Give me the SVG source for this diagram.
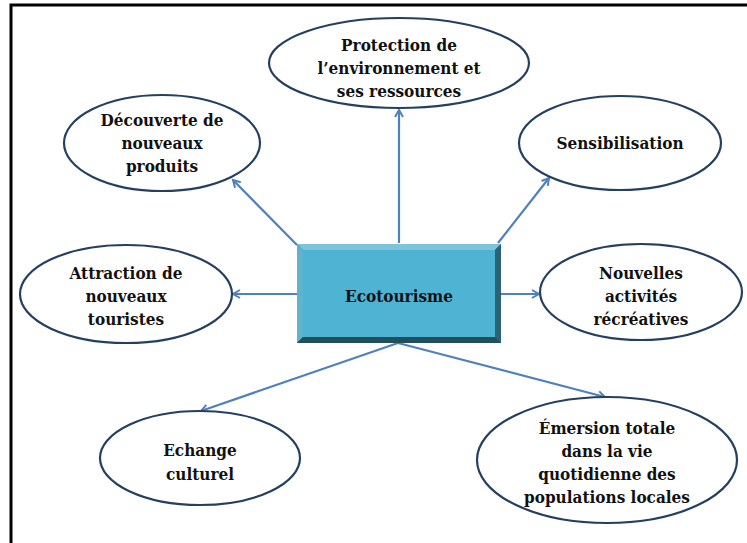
<svg xmlns="http://www.w3.org/2000/svg" width="747" height="543" viewBox="0 0 747 543">
<style>
.n ellipse{fill:#fff;stroke:#243f60;stroke-width:2.2}
text{font-family:'DejaVu Serif Condensed','DejaVu Serif','Liberation Serif',serif;font-stretch:condensed;font-weight:700;font-size:17px;fill:#111;text-anchor:middle}
.c line{stroke:#4f81bd;stroke-width:2.2;marker-end:url(#ah)}
</style>
<defs>
<marker id="ah" markerWidth="10" markerHeight="10" refX="8" refY="5" orient="auto" markerUnits="userSpaceOnUse">
<path d="M1,1 L8,5 L1,9" fill="none" stroke="#4f81bd" stroke-width="2"/>
</marker>
</defs>
<rect width="747" height="543" fill="#fff"/>
<path d="M11,543 V5 H747" fill="none" stroke="#000" stroke-width="3"/>
<g class="c">
<line x1="399" y1="243" x2="399" y2="110"/>
<line x1="297" y1="245" x2="233" y2="180"/>
<line x1="498" y1="243" x2="549" y2="178"/>
<line x1="297" y1="294" x2="233" y2="294"/>
<line x1="500" y1="294" x2="539" y2="294"/>
<line x1="398" y1="343" x2="201" y2="411"/>
<line x1="398" y1="343" x2="605" y2="397"/>
</g>
<g id="ecotourisme">
<rect x="297" y="244" width="204" height="99" fill="#2e6d80"/>
<polygon points="297,244 501,244 495,250 303,250" fill="#7cc4d9"/>
<polygon points="297,244 303,250 303,337 297,343" fill="#5fb3cc"/>
<polygon points="501,244 495,250 495,337 501,343" fill="#2a6373"/>
<polygon points="297,343 303,337 495,337 501,343" fill="#234f5c"/>
<rect x="303" y="250" width="192" height="87" fill="#4fb3d4"/>
<text x="399" y="302">Ecotourisme</text>
</g>
<g id="protection" class="n">
<ellipse cx="399" cy="63" rx="130" ry="45"/>
<text x="399" y="51">Protection de</text>
<text x="399" y="74">l’environnement et</text>
<text x="399" y="97">ses ressources</text>
</g>
<g id="decouverte" class="n">
<ellipse cx="162" cy="143" rx="98" ry="48"/>
<text x="162" y="126">Découverte de</text>
<text x="162" y="149">nouveaux</text>
<text x="162" y="172">produits</text>
</g>
<g id="sensibilisation" class="n">
<ellipse cx="620" cy="143" rx="101" ry="47"/>
<text x="620" y="149">Sensibilisation</text>
</g>
<g id="attraction" class="n">
<ellipse cx="126" cy="294" rx="106" ry="49"/>
<text x="126" y="279">Attraction de</text>
<text x="126" y="302">nouveaux</text>
<text x="126" y="325">touristes</text>
</g>
<g id="nouvelles" class="n">
<ellipse cx="641" cy="292" rx="101" ry="48"/>
<text x="641" y="279">Nouvelles</text>
<text x="641" y="302">activités</text>
<text x="641" y="325">récréatives</text>
</g>
<g id="echange" class="n">
<ellipse cx="200" cy="458" rx="100" ry="47"/>
<text x="200" y="456">Echange</text>
<text x="200" y="480">culturel</text>
</g>
<g id="emersion" class="n">
<ellipse cx="607" cy="460" rx="130" ry="63"/>
<text x="607" y="434">Émersion totale</text>
<text x="607" y="457">dans la vie</text>
<text x="607" y="480">quotidienne des</text>
<text x="607" y="503">populations locales</text>
</g>
</svg>
